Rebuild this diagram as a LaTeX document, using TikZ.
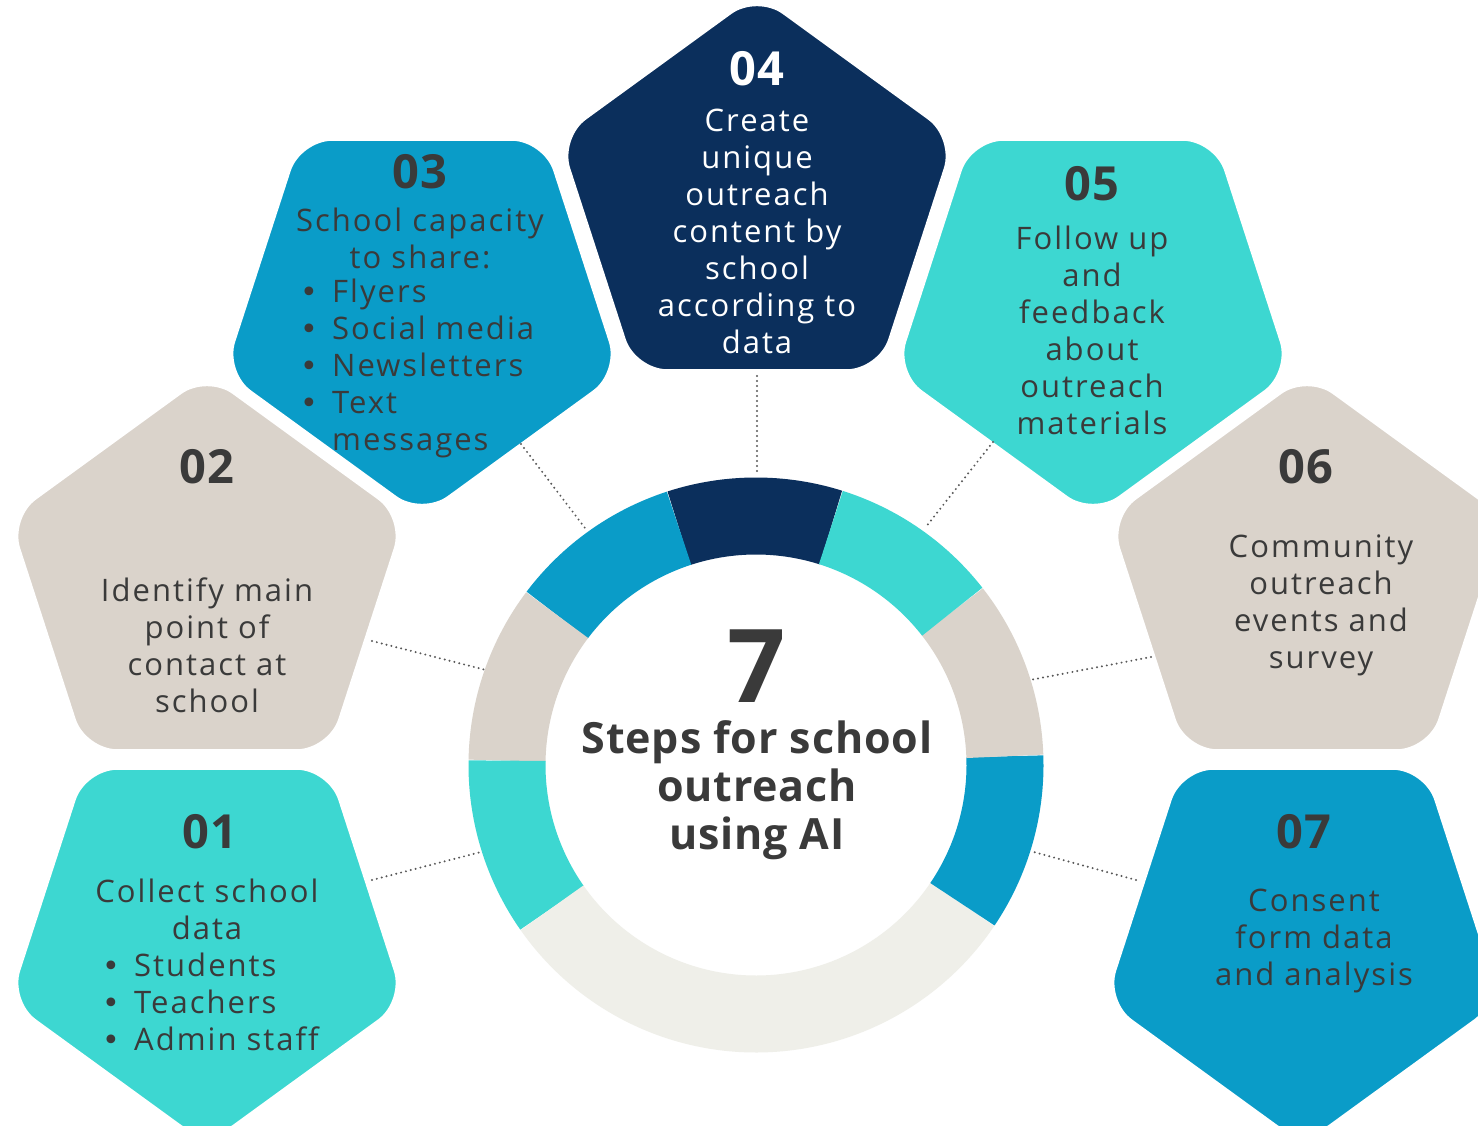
\documentclass[tikz,border=0pt]{standalone}
\usepackage{fontspec}
\setmainfont{Open Sans}
\newfontfamily\bodyf[LetterSpace=6.5,Ligatures=NoCommon]{Open Sans}
\newfontfamily\headf[LetterSpace=2,Ligatures=NoCommon]{Open Sans}
\newfontfamily\symf{DejaVu Sans}
\definecolor{navy}{HTML}{0B2F5C}
\definecolor{sblue}{HTML}{0A9CC8}
\definecolor{turq}{HTML}{3DD7D1}
\definecolor{beige}{HTML}{DAD3CB}
\definecolor{pale}{HTML}{EFEFE9}
\definecolor{ink}{HTML}{3A3A3A}
\newcommand{\PentUp}[4]{\path[pent,fill=#4,shift={(#2)}] (-90:#3) -- (-18:#3) -- (54:#3) -- (126:#3) -- (198:#3) -- cycle; \coordinate (#1) at (#2);}
\newcommand{\PentDown}[4]{\path[pent,fill=#4,shift={(#2)}] (90:#3) -- (162:#3) -- (234:#3) -- (306:#3) -- (18:#3) -- cycle; \coordinate (#1) at (#2);}
\tikzset{
  pent/.style={draw=white, line width=7pt, rounded corners=34pt},
  seg/.style={line width=77pt},
  dots/.style={draw=ink!85, line width=2.2pt, dash pattern=on 0pt off 5pt, line cap=round},
  body/.style={font=\bodyf\fontsize{31}{37}\selectfont, text=ink, align=center, inner sep=0pt},
  blist/.style={font=\bodyf\fontsize{31}{37}\selectfont, text=ink, align=left, inner sep=0pt, anchor=west},
  num/.style={font=\headf\bfseries\fontsize{47}{47}\selectfont, text=ink, inner sep=0pt},
}
\newcommand{\bul}{\makebox[32pt][l]{\symf\fontsize{30}{37}\selectfont •}}
\begin{document}
\begin{tikzpicture}[x=1pt,y=-1pt]
\useasboundingbox (0,0) rectangle (1478,1126);
\clip (0,0) rectangle (1478,1126);
\fill[white] (0,0) rectangle (1478,1126);
% pentagons
\PentUp{p2}{207,582}{211}{beige}
\PentUp{p6}{1307,582}{211}{beige}
\PentDown{p1}{207,937}{211}{turq}
\PentDown{p7}{1303,937}{211}{sblue}
\PentDown{p3}{422,308}{211}{sblue}
\PentDown{p5}{1093,308}{211}{turq}
\PentUp{p4}{757,202}{211}{navy}
% ring
\begin{scope}[shift={(756,765)}]
\coordinate (ring) at (0,0);
\draw[seg,navy]  (-72.5:249) arc[start angle=-72.5, end angle=-108, radius=249];
\draw[seg,sblue] (-108:249) arc[start angle=-108, end angle=-143, radius=249];
\draw[seg,beige] (-143:249) arc[start angle=-143, end angle=-179, radius=249];
\draw[seg,turq]  (-179:249) arc[start angle=-179, end angle=-215, radius=249];
\draw[seg,pale]  (-215:249) arc[start angle=-215, end angle=-326, radius=249];
\draw[seg,sblue] (34:249) arc[start angle=34, end angle=-2, radius=249];
\draw[seg,beige] (-2:249) arc[start angle=-2, end angle=-38, radius=249];
\draw[seg,turq]  (-38:249) arc[start angle=-38, end angle=-72.5, radius=249];
\end{scope}
% connector ends
\coordinate (a4) at (757,376); \coordinate (b4) at (757,475);
\coordinate (a3) at (521,444); \coordinate (b3) at (585,528);
\coordinate (a5) at (993,442); \coordinate (b5) at (925,528);
\coordinate (a2) at (372,641); \coordinate (b2) at (486,670);
\coordinate (a6) at (1151,657); \coordinate (b6) at (1030,680);
\coordinate (a1) at (372,880); \coordinate (b1) at (481,852);
\coordinate (a7) at (1136,880); \coordinate (b7) at (1030,851);
\foreach \k in {1,...,7} {\draw[dots] (a\k) -- (b\k);}
% texts
\node[num,text=white] (n4) at (757,69) {04};
\node[body,text=white] (t4) at (757,231) {Create\\unique\\outreach\\content by\\school\\according to\\data};
\node[num] (n3) at (420,172) {03};
\node[body] (t3) at (420,238) {School capacity\\to share:};
\node[blist] (l3) at (300,368) {\bul Flyers\\\bul Social media\\\bul Newsletters\\\bul Text\\\hspace*{32pt}messages};
\node[num] (n5) at (1092,184) {05};
\node[body] (t5) at (1092,330) {Follow up\\and\\feedback\\about\\outreach\\materials};
\node[num] (n2) at (207,467) {02};
\node[body] (t2) at (207,645) {Identify main\\point of\\contact at\\school};
\node[num] (n6) at (1306,467) {06};
\node[body] (t6) at (1321,605) {Community\\outreach\\events and\\survey};
\node[num] (n1) at (210,832) {01};
\node[body] (t1) at (207,909) {Collect school\\data};
\node[blist] (l1) at (102,1002) {\bul Students\\\bul Teachers\\\bul Admin staff};
\node[num] (n7) at (1304,832) {07};
\node[body] (t7) at (1314,941) {Consent\\form data\\and analysis};
\node[font=\bfseries\fontsize{102}{102}\selectfont, text=ink, inner sep=0pt] (big) at (757,666) {7};
\node[font=\headf\bfseries\fontsize{43}{48}\selectfont, text=ink, align=center, inner sep=0pt] (title) at (757,790) {Steps for school\\outreach\\using AI};
\end{tikzpicture}
\end{document}
